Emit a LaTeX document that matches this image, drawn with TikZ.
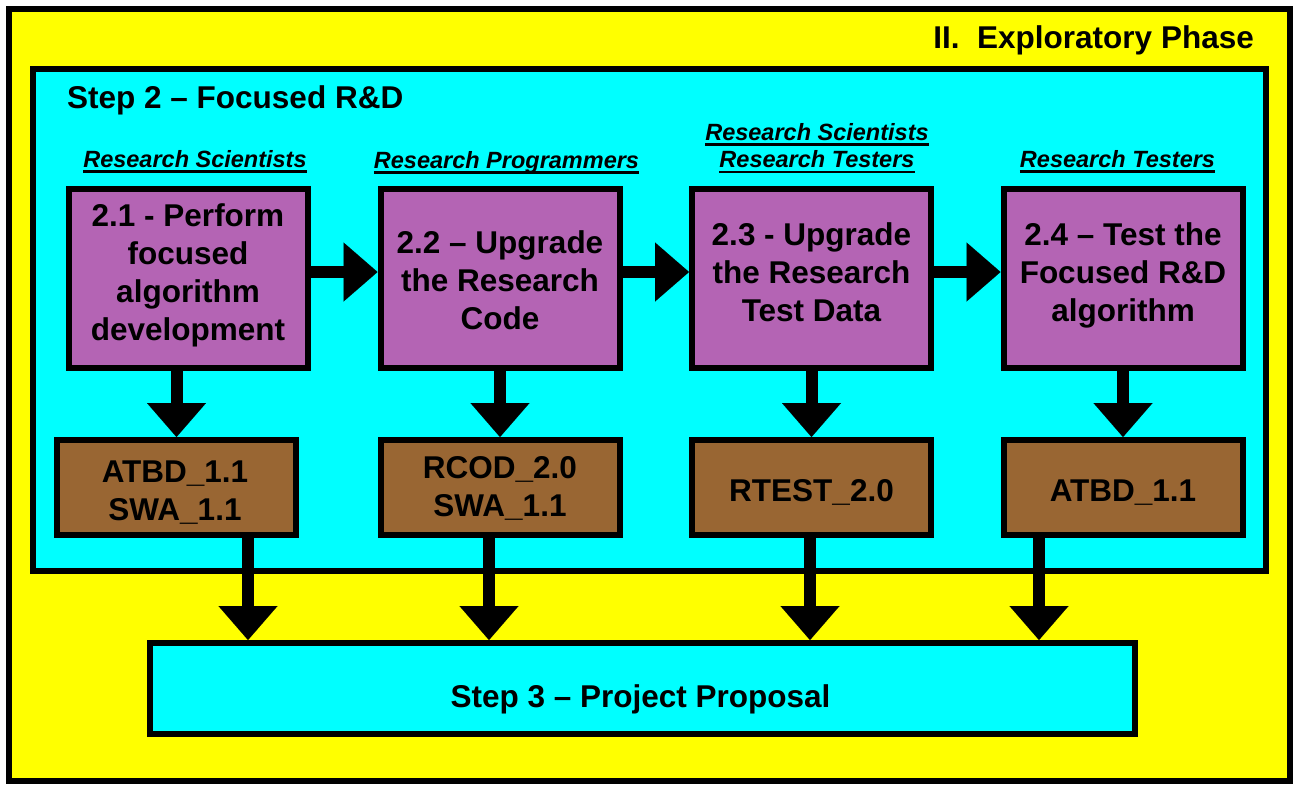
\documentclass[tikz,border=0pt]{standalone}
\usepackage{fontspec}
\setmainfont{Liberation Sans}
\usetikzlibrary{arrows.meta}
\definecolor{ylw}{HTML}{FFFF00}
\definecolor{cyn}{HTML}{00FFFF}
\definecolor{prp}{HTML}{B464B4}
\definecolor{brn}{HTML}{996633}
\newcommand\myul[1]{\setbox0=\hbox{#1}\rlap{\rule[-5.5pt]{\wd0}{2.5pt}}\box0}
\begin{document}
\begin{tikzpicture}[x=1pt,y=-1pt,
  boxline/.style={draw=black, line width=6pt, inner sep=0pt},
  pbox/.style={boxline, fill=prp, minimum width=239pt, minimum height=179pt},
  bbox/.style={boxline, fill=brn, minimum width=239pt, minimum height=95pt},
  maintext/.style={font=\fontsize{31.5}{38}\selectfont\bfseries, align=center, inner sep=0pt},
  roletext/.style={font=\fontsize{23.5}{27.5}\selectfont\bfseries\itshape, align=center, inner sep=0pt},
  bigarrow/.style={line width=12pt, -{Triangle[width=59pt,length=34pt,line width=0.01pt]}}]
\fill[white] (0,0) rectangle (1295,785);
\path[use as bounding box] (0,0) rectangle (1295,785);
% frames
\node[boxline, fill=ylw, minimum width=1281pt, minimum height=772pt] (phase) at (649.5,395) {};
\node[boxline, fill=cyn, minimum width=1233pt, minimum height=502pt] (step2) at (649.5,320) {};
\node[boxline, fill=cyn, minimum width=985pt, minimum height=91pt] (s3) at (642.5,688.5) {};
% titles
\node[maintext, anchor=base east] (phasetitle) at (1254,48) {II.\ \ Exploratory Phase};
\node[maintext, anchor=base west] (steptitle) at (67,108) {Step 2 – Focused R\&D};
% purple boxes
\node[pbox] (p1) at (188.75,278.5) {};
\node[pbox] (p2) at (500,278.5) {};
\node[pbox] (p3) at (811.5,278.5) {};
\node[pbox] (p4) at (1123,278.5) {};
% brown boxes
\node[bbox] (b1) at (176.5,487.5) {};
\node[bbox] (b2) at (500,487.5) {};
\node[bbox] (b3) at (811.5,487.5) {};
\node[bbox] (b4) at (1123,487.5) {};
% texts in purple boxes
\node[maintext] (tp1) at (188,275.4) {\strut 2.1 - Perform\\\strut focused\\\strut algorithm\\\strut development};
\node[maintext] (tp2) at (500,283.4) {\strut 2.2 – Upgrade\\\strut the Research\\\strut Code};
\node[maintext] (tp3) at (811.5,275.4) {\strut 2.3 - Upgrade\\\strut the Research\\\strut Test Data};
\node[maintext] (tp4) at (1123,275.4) {\strut 2.4 – Test the\\\strut Focused R\&D\\\strut algorithm};
% texts in brown boxes
\node[maintext] (tb1) at (175,493.4) {\strut ATBD\_1.1\\\strut SWA\_1.1};
\node[maintext] (tb2) at (500,489.4) {\strut RCOD\_2.0\\\strut SWA\_1.1};
\node[maintext, anchor=base] (tb3) at (811.5,501) {RTEST\_2.0};
\node[maintext, anchor=base] (tb4) at (1123,501) {ATBD\_1.1};
% bottom text
\node[maintext, anchor=base] (ts3) at (640.5,707) {Step 3 – Project Proposal};
% role labels
\node[roletext, anchor=base] (lr1) at (195,167) {\myul{Research Scientists}};
\node[roletext, anchor=base] (lr2) at (506.5,168) {\myul{Research Programmers}};
\node[roletext] (lr3) at (817,148.25) {\strut\myul{Research Scientists}\\\strut\myul{Research Testers}};
\node[roletext, anchor=base] (lr4) at (1117.5,167) {\myul{Research Testers}};
% horizontal arrows
\draw[bigarrow] ([yshift=6.5pt]p1.east) -- ([yshift=6.5pt]p2.west);
\draw[bigarrow] ([yshift=6.5pt]p2.east) -- ([yshift=6.5pt]p3.west);
\draw[bigarrow] ([yshift=6.5pt]p3.east) -- ([yshift=6.5pt]p4.west);
% purple -> brown
\draw[bigarrow] (p1.south -| b1.north) -- (b1.north);
\draw[bigarrow] (p2.south -| b2.north) -- (b2.north);
\draw[bigarrow] (p3.south -| b3.north) -- (b3.north);
\draw[bigarrow] (p4.south -| b4.north) -- (b4.north);
% brown -> step 3
\coordinate (d1) at ([xshift=71.5pt]b1.south);
\coordinate (d2) at ([xshift=-11pt]b2.south);
\coordinate (d3) at ([xshift=-1.5pt]b3.south);
\coordinate (d4) at ([xshift=-84pt]b4.south);
\draw[bigarrow] (d1) -- (d1 |- s3.north);
\draw[bigarrow] (d2) -- (d2 |- s3.north);
\draw[bigarrow] (d3) -- (d3 |- s3.north);
\draw[bigarrow] (d4) -- (d4 |- s3.north);
\end{tikzpicture}
\end{document}
